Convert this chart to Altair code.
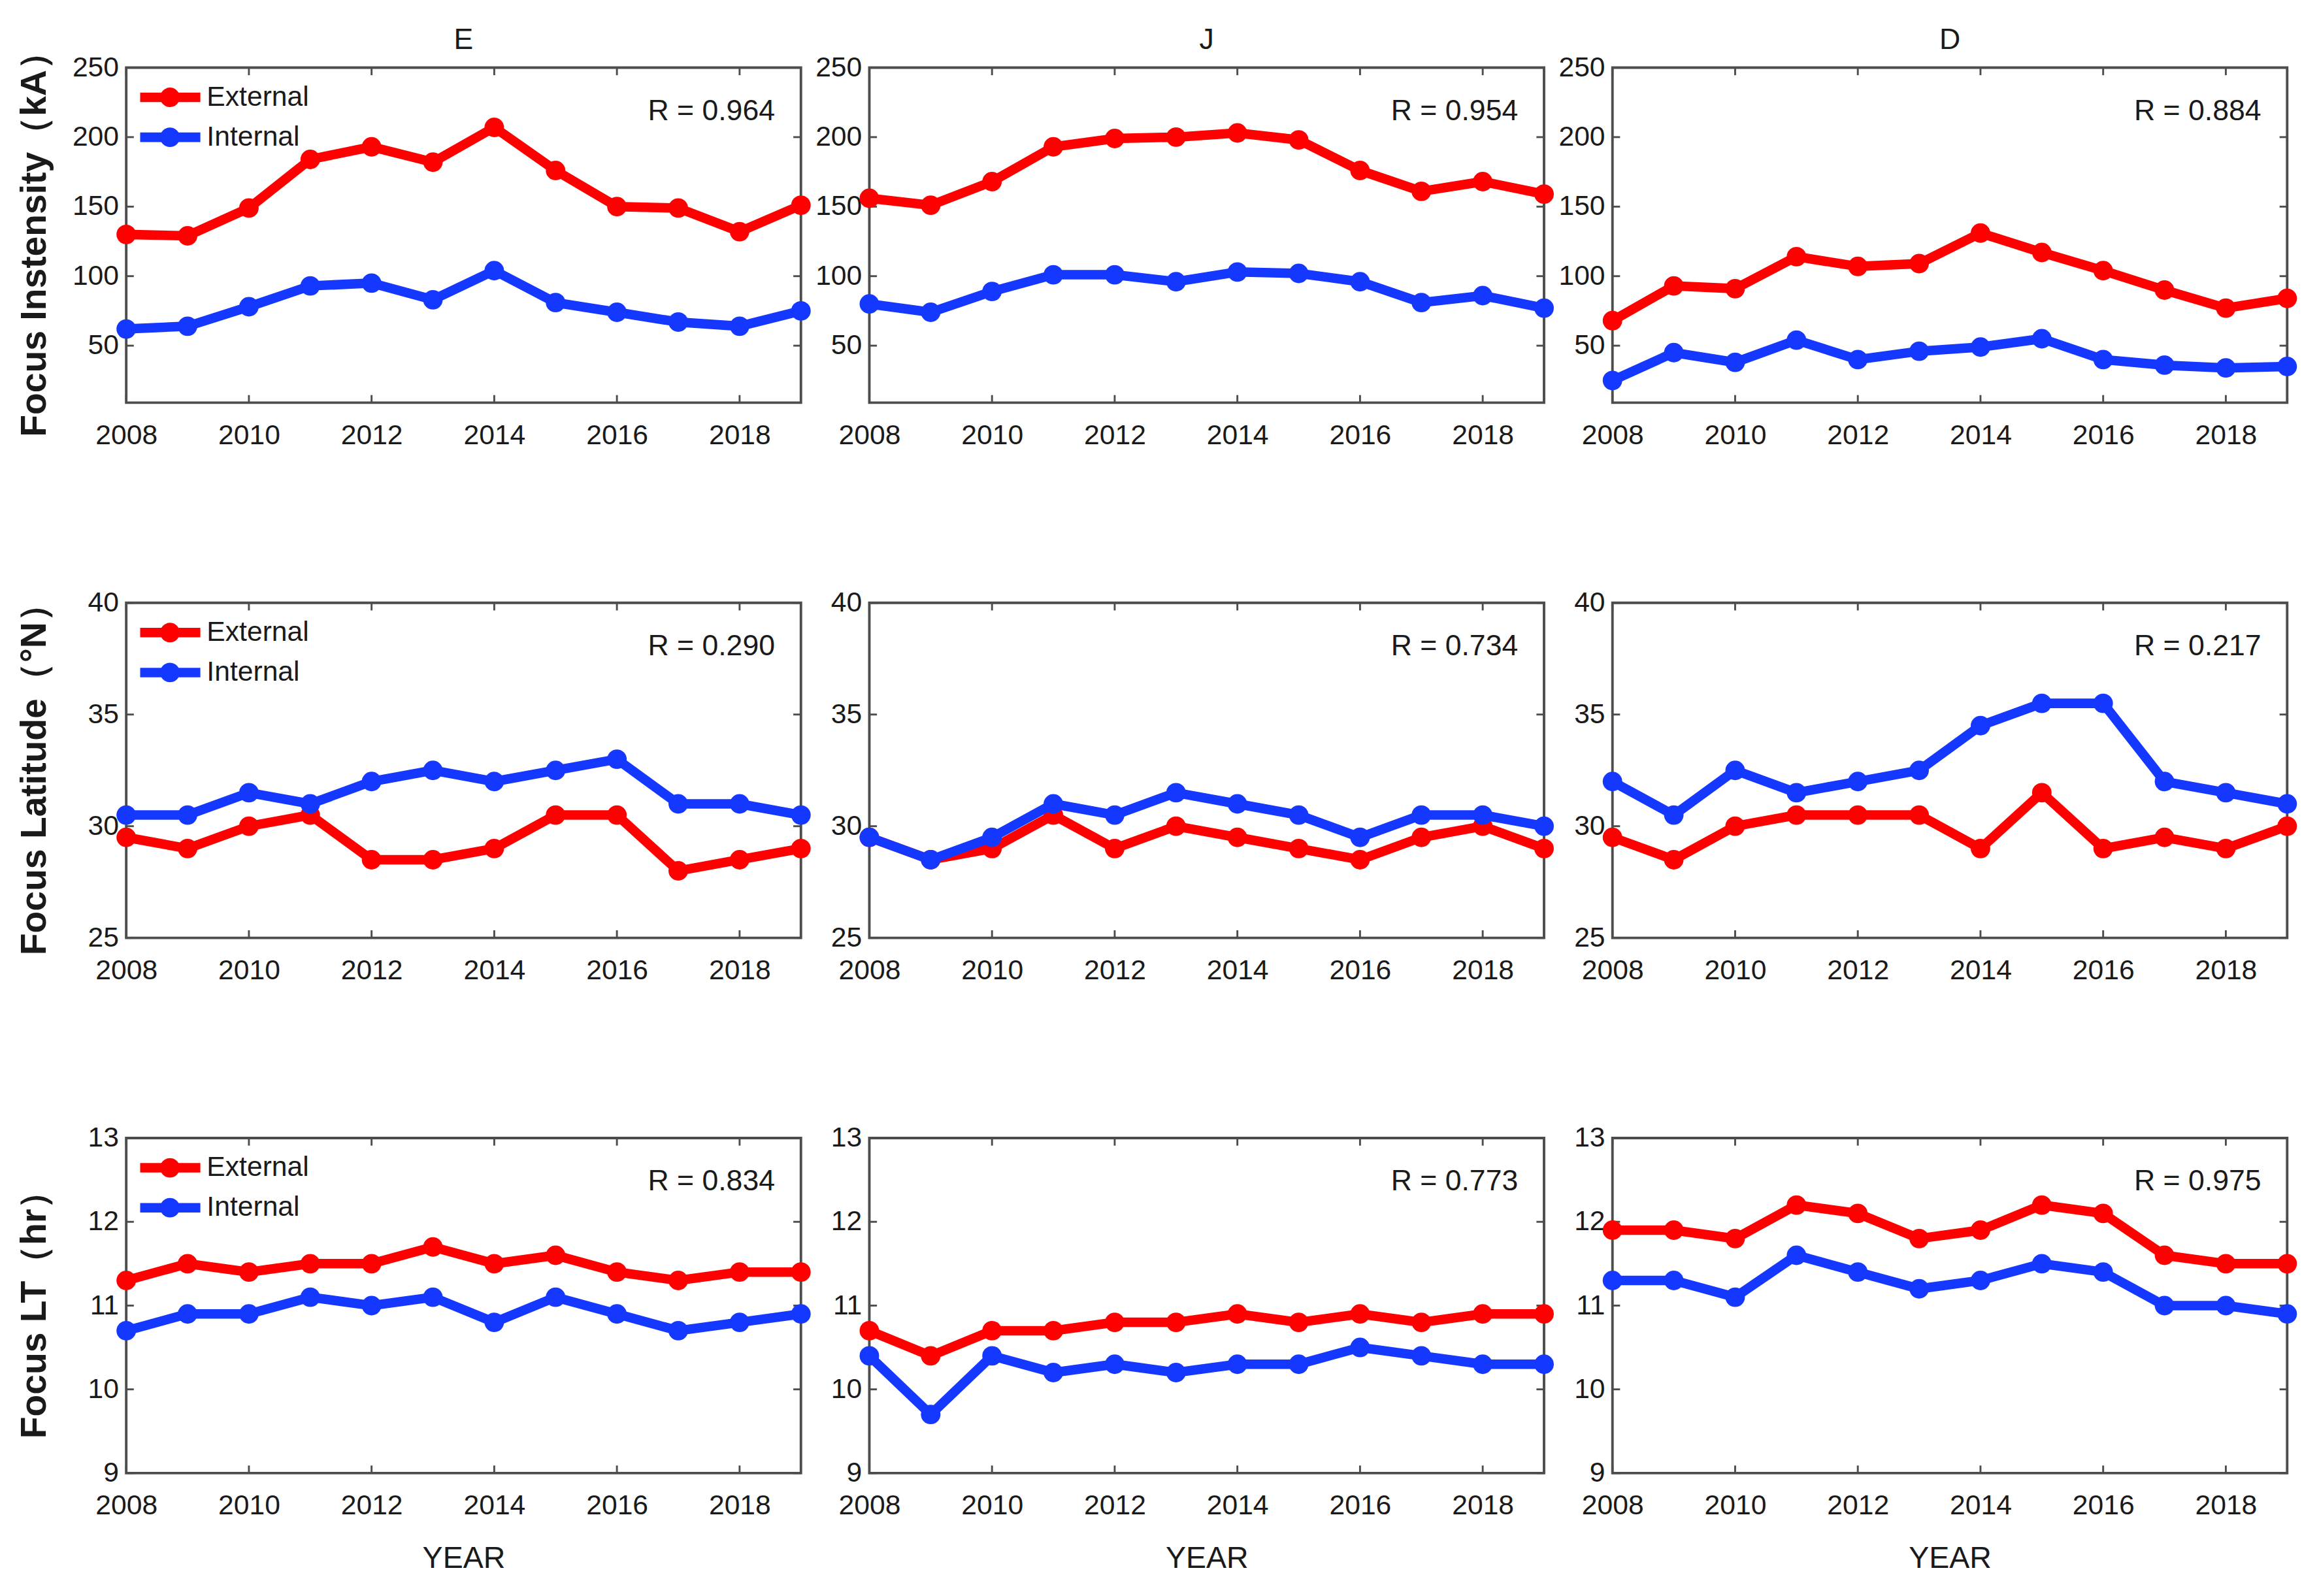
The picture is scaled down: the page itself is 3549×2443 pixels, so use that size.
import altair as alt
import pandas as pd

years = list(range(2008, 2020))
x_ticks = [2008, 2010, 2012, 2014, 2016, 2018]
seasons = ["E", "J", "D"]
series_names = ["External", "Internal"]
series_colors = ["#ff0000", "#1438ff"]

# Focus intensity (kA)
int_E_ext = [130, 129, 149, 184, 193, 182, 207, 176, 150, 149, 132, 151]
int_E_int = [62, 64, 78, 93, 95, 83, 104, 81, 74, 67, 64, 75]
int_J_ext = [156, 151, 168, 193, 199, 200, 203, 198, 176, 161, 168, 159]
int_J_int = [80, 74, 89, 101, 101, 96, 103, 102, 96, 81, 86, 77]
int_D_ext = [68, 93, 91, 114, 107, 109, 131, 117, 104, 90, 77, 84]
int_D_int = [25, 45, 38, 54, 40, 46, 49, 55, 40, 36, 34, 35]

# Focus latitude (deg N)
lat_E_ext = [29.5, 29, 30, 30.5, 28.5, 28.5, 29, 30.5, 30.5, 28, 28.5, 29]
lat_E_int = [30.5, 30.5, 31.5, 31, 32, 32.5, 32, 32.5, 33, 31, 31, 30.5]
lat_J_ext = [29.5, 28.5, 29, 30.5, 29, 30, 29.5, 29, 28.5, 29.5, 30, 29]
lat_J_int = [29.5, 28.5, 29.5, 31, 30.5, 31.5, 31, 30.5, 29.5, 30.5, 30.5, 30]
lat_D_ext = [29.5, 28.5, 30, 30.5, 30.5, 30.5, 29, 31.5, 29, 29.5, 29, 30]
lat_D_int = [32, 30.5, 32.5, 31.5, 32, 32.5, 34.5, 35.5, 35.5, 32, 31.5, 31]

# Focus LT (hr)
lt_E_ext = [11.3, 11.5, 11.4, 11.5, 11.5, 11.7, 11.5, 11.6, 11.4, 11.3, 11.4, 11.4]
lt_E_int = [10.7, 10.9, 10.9, 11.1, 11.0, 11.1, 10.8, 11.1, 10.9, 10.7, 10.8, 10.9]
lt_J_ext = [10.7, 10.4, 10.7, 10.7, 10.8, 10.8, 10.9, 10.8, 10.9, 10.8, 10.9, 10.9]
lt_J_int = [10.4, 9.7, 10.4, 10.2, 10.3, 10.2, 10.3, 10.3, 10.5, 10.4, 10.3, 10.3]
lt_D_ext = [11.9, 11.9, 11.8, 12.2, 12.1, 11.8, 11.9, 12.2, 12.1, 11.6, 11.5, 11.5]
lt_D_int = [11.3, 11.3, 11.1, 11.6, 11.4, 11.2, 11.3, 11.5, 11.4, 11.0, 11.0, 10.9]

r_int = ["0.964", "0.954", "0.884"]
r_lat = ["0.290", "0.734", "0.217"]
r_lt = ["0.834", "0.773", "0.975"]

row_titles = ["Focus Instensity（kA）", "Focus Latitude（°N）", "Focus LT（hr）"]
row_domains = [[9, 250], [25, 40], [9, 13]]
row_ticks = [[50, 100, 150, 200, 250], [25, 30, 35, 40], [9, 10, 11, 12, 13]]
row_data = [
    [(int_E_ext, int_E_int), (int_J_ext, int_J_int), (int_D_ext, int_D_int)],
    [(lat_E_ext, lat_E_int), (lat_J_ext, lat_J_int), (lat_D_ext, lat_D_int)],
    [(lt_E_ext, lt_E_int), (lt_J_ext, lt_J_int), (lt_D_ext, lt_D_int)],
]
row_r = [r_int, r_lat, r_lt]

W, H = 1065, 529
FONT = "Liberation Sans"
TXT = "#1a1a1a"
TICK = 12
LW = 15
MS = 950


def panel(row, col):
    ext, inn = row_data[row][col]
    x_enc = alt.X(
        "year:Q",
        scale=alt.Scale(domain=[2008, 2019], nice=False, zero=False),
        axis=alt.Axis(
            values=x_ticks, format="d", title="YEAR" if row == 2 else None,
            titleFontSize=48, titleFontWeight="normal", titlePadding=35,
            titleColor=TXT, labelPadding=30, minExtent=76, maxExtent=76,
        ),
    )
    y_enc = alt.Y(
        "value:Q",
        scale=alt.Scale(domain=row_domains[row], nice=False, zero=False),
        axis=alt.Axis(
            values=row_ticks[row], title=row_titles[row] if col == 0 else None,
            titleFontSize=57, titleFontWeight="bold", titlePadding=30,
            titleColor=TXT, labelPadding=12, minExtent=86, maxExtent=86,
        ),
    )
    layers = []
    # inward ticks (MATLAB style)
    xt = pd.DataFrame({"year": x_ticks})
    yt = pd.DataFrame({"value": row_ticks[row]})
    tick_style = dict(color="#4d4d4d", strokeWidth=3)
    layers.append(alt.Chart(xt).mark_rule(**tick_style).encode(
        x=x_enc, y=alt.value(0), y2=alt.value(TICK)))
    layers.append(alt.Chart(xt).mark_rule(**tick_style).encode(
        x=x_enc, y=alt.value(H), y2=alt.value(H - TICK)))
    layers.append(alt.Chart(yt).mark_rule(**tick_style).encode(
        y=y_enc, x=alt.value(0), x2=alt.value(TICK)))
    layers.append(alt.Chart(yt).mark_rule(**tick_style).encode(
        y=y_enc, x=alt.value(W), x2=alt.value(W - TICK)))

    for name, color, vals in zip(series_names, series_colors, [ext, inn]):
        df = pd.DataFrame({"year": years, "value": vals, "series": name})
        layers.append(alt.Chart(df).mark_line(color=color, strokeWidth=LW).encode(x=x_enc, y=y_enc))
        layers.append(alt.Chart(df).mark_circle(color=color, size=MS, opacity=1).encode(x=x_enc, y=y_enc))

    # R annotation
    layers.append(
        alt.Chart(pd.DataFrame({"t": [f"R = {row_r[row][col]}"]}))
        .mark_text(align="right", baseline="alphabetic", fontSize=46, font=FONT, color=TXT)
        .encode(x=alt.value(W - 41), y=alt.value(83), text="t:N")
    )

    # column heading (season) above the top row
    if row == 0:
        layers.append(
            alt.Chart(pd.DataFrame({"t": [seasons[col]]}))
            .mark_text(align="center", baseline="alphabetic", fontSize=46, font=FONT, color=TXT)
            .encode(x=alt.value(W / 2), y=alt.value(-29), text="t:N")
        )

    # legend in left column
    if col == 0:
        for i, (name, color) in enumerate(zip(series_names, series_colors)):
            ly = 47 + 63 * i
            ldf = pd.DataFrame({"label": [name]})
            layers.append(alt.Chart(ldf).mark_rule(color=color, strokeWidth=LW).encode(
                x=alt.value(22), x2=alt.value(117), y=alt.value(ly)))
            layers.append(alt.Chart(ldf).mark_circle(color=color, size=MS, opacity=1).encode(
                x=alt.value(69), y=alt.value(ly)))
            layers.append(alt.Chart(ldf).mark_text(
                align="left", baseline="middle", fontSize=44, font=FONT, color=TXT
            ).encode(x=alt.value(127), y=alt.value(ly), text="label:N"))

    return alt.layer(*layers).properties(width=W, height=H)


panels = [panel(r, c) for r in range(3) for c in range(3)]

chart = (
    alt.concat(*panels, columns=3, spacing={"row": 316, "column": 108}, bounds="flush")
    .properties(padding={"left": 14, "top": -8, "right": 10, "bottom": 10}, background="white")
    .configure_view(stroke="#4d4d4d", strokeWidth=4)
    .configure_axis(
        labelFont=FONT, titleFont=FONT, labelFontSize=44, labelColor=TXT,
        ticks=False, domain=False, grid=False, labelFlush=False,
    )
)

chart.save("out.html", embed_options={"renderer": "svg", "actions": False})
